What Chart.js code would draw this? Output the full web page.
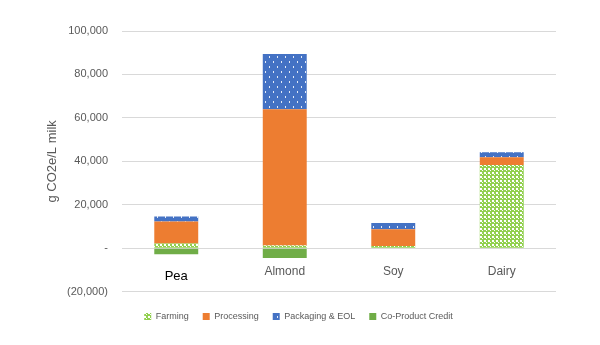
<!DOCTYPE html>
<html>
<head>
<meta charset="utf-8">
<script src="https://cdn.jsdelivr.net/npm/chart.js@4.4.1/dist/chart.umd.min.js"></script>
<style>
  html, body { margin: 0; padding: 0; background: #fff; }
</style>
</head>
<body>
<canvas id="graficoEmissoes" width="600" height="345"></canvas>
<script>
// g CO2e por litro, por etapa
var categorias = ['Pea', 'Almond', 'Soy', 'Dairy'];
var farming = [2200, 1300, 1100, 38400];
var processing = [10200, 62700, 7700, 3500];
var packaging = [2300, 25400, 2800, 2300];
var coProductCredit = [-2700, -4500, 0, 0];

var fonte = "'Liberation Sans', Arial, sans-serif";
var cinza = '#595959';

// xadrez verde claro (Farming)
function padraoXadrez() {
	var c = document.createElement('canvas');
	c.width = 4; c.height = 4;
	var ctx = c.getContext('2d');
	ctx.fillStyle = '#92d050';
	ctx.fillRect(0, 0, 4, 4);
	ctx.fillStyle = '#ffffff';
	ctx.fillRect(0, 0, 2, 2);
	ctx.fillRect(2, 2, 1, 1);
	return ctx.createPattern(c, 'repeat');
}

// azul com pontinhos brancos (Packaging & EOL)
function padraoPontos() {
	var c = document.createElement('canvas');
	c.width = 8; c.height = 10;
	var ctx = c.getContext('2d');
	ctx.fillStyle = '#4472c4';
	ctx.fillRect(0, 0, 8, 10);
	ctx.fillStyle = '#e4ebf7';
	ctx.fillRect(1, 1, 1, 2);
	ctx.fillRect(5, 6, 1, 2);
	return ctx.createPattern(c, 'repeat');
}

var data = {
	labels: categorias,
	datasets: [
		{ label: 'Farming', data: farming, backgroundColor: padraoXadrez() },
		{ label: 'Processing', data: processing, backgroundColor: '#ed7d31' },
		{ label: 'Packaging & EOL', data: packaging, backgroundColor: padraoPontos() },
		{ label: 'Co-Product Credit', data: coProductCredit, backgroundColor: '#70ad47' }
	]
};

var grafico = new Chart(document.getElementById('graficoEmissoes'), {
	type: 'bar',
	data: data,
	options: {
		responsive: false,
		animation: false,
		devicePixelRatio: 1,
		categoryPercentage: 1,
		barPercentage: 0.405,
		layout: { padding: { top: 31, left: 41, right: 44, bottom: 14 } },
		plugins: {
			tooltip: { enabled: false },
			legend: {
				position: 'bottom',
				title: { display: true, text: ' ', font: { size: 1 }, padding: { top: 5, bottom: 0 } },
				labels: {
					boxWidth: 7,
					boxHeight: 7,
					padding: 14,
					color: cinza,
					font: { family: fonte, size: 9 }
				}
			}
		},
		scales: {
			x: {
				stacked: true,
				position: { y: 0 },
				grid: { display: false },
				border: { display: false },
				ticks: {
					padding: 8,
					color: function (ctx) { return ctx.index === 0 ? '#000000' : cinza; },
					font: function (ctx) {
						return ctx.index === 0
							? { family: fonte, size: 13, lineHeight: 1.8 }
							: { family: fonte, size: 12, lineHeight: 1.2 };
					}
				}
			},
			y: {
				stacked: true,
				min: -20000,
				max: 100000,
				afterFit: function (escala) { escala.width = 81; },
				grid: { color: '#d9d9d9', drawTicks: false },
				border: { display: false },
				title: {
					display: true,
					text: 'g CO2e/L milk',
					color: cinza,
					font: { family: fonte, size: 13 }
				},
				ticks: {
					stepSize: 20000,
					padding: 14,
					color: cinza,
					font: { family: fonte, size: 11 },
					callback: function (v) {
						if (v === 0) return '-';
						var txt = Math.abs(v).toLocaleString('en-US');
						return v < 0 ? '(' + txt + ')' : txt;
					}
				}
			}
		}
	}
});
</script>
</body>
</html>
